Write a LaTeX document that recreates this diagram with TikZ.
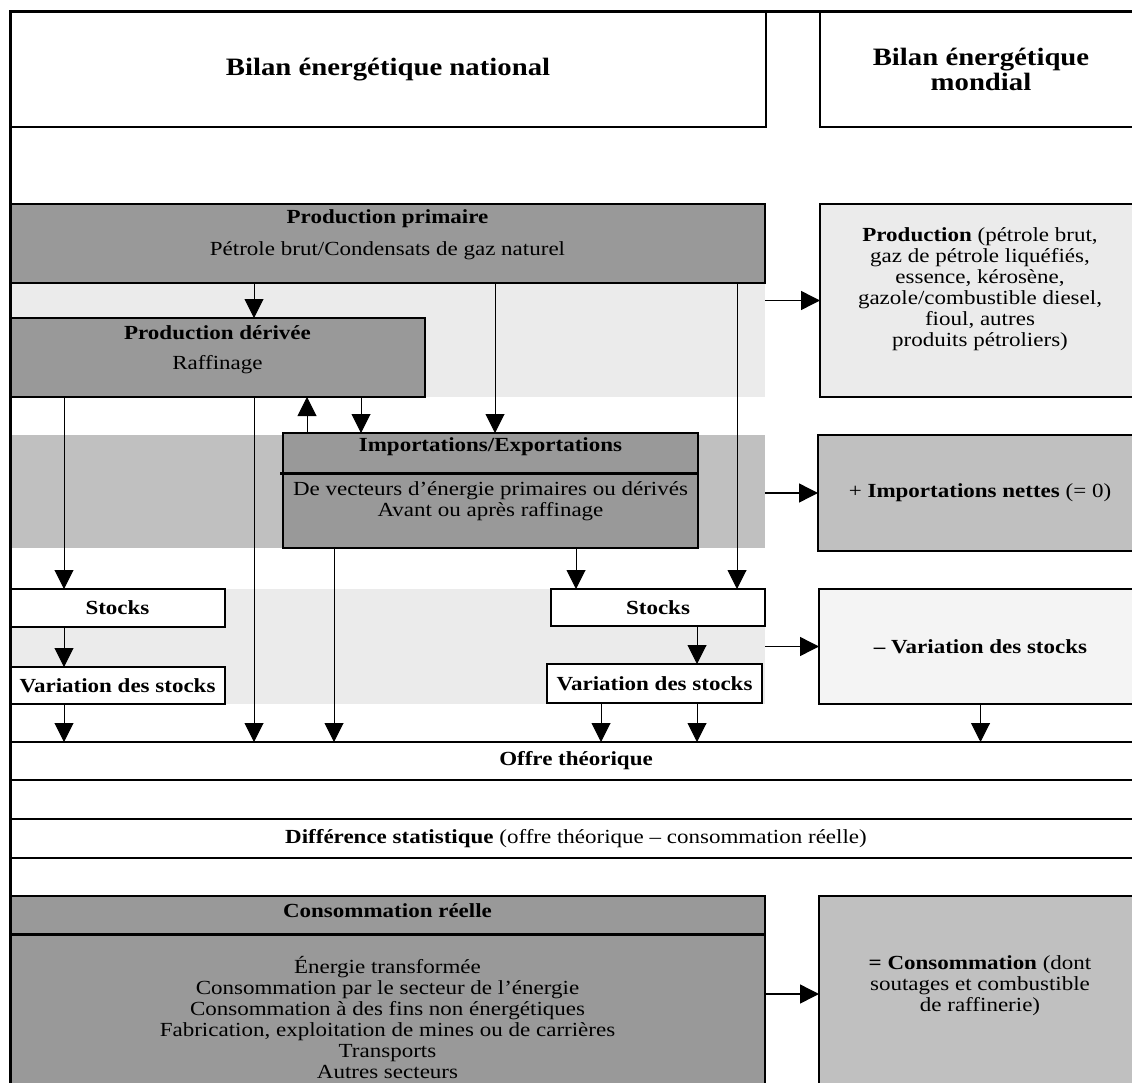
\documentclass[tikz,border=0pt]{standalone}
\usepackage{xcolor}
\usepackage{fontspec}
\setmainfont{Liberation Serif}[FakeStretch=1.15]
\usepackage{tikz}
\definecolor{boxgray}{RGB}{153, 153, 153}
\definecolor{bandgray}{RGB}{192, 192, 192}
\definecolor{bandlight}{RGB}{235, 235, 235}
\definecolor{boxpale}{RGB}{244, 244, 244}
\usetikzlibrary{arrows.meta}
\newcommand{\diagfont}{\fontsize{20}{21}\selectfont}
\newcommand{\headfont}{\fontsize{25}{25}\selectfont\bfseries}

\begin{document}
\begin{tikzpicture}[
    x=1pt, y=-1pt,
    every node/.style={inner sep=0pt, outer sep=0pt, align=center, font=\diagfont},
    heading/.style={font=\diagfont\bfseries},
    band/.style={rectangle, fill=#1, minimum width=755pt},
    panel/.style={rectangle, draw, line width=1.4pt, fill=#1},
    panel/.default=white,
    flow/.style={-{Triangle[length=19pt, width=19pt]}, line width=1pt},
    feed/.style={-{Triangle[length=19pt, width=19pt]}, line width=1.4pt},
    divider/.style={line width=3pt}
]
    \useasboundingbox (0,0) rectangle (1132,1083);
    \clip (0,0) rectangle (1132,1083);

    \node[band=bandlight, minimum height=114pt] (band1) at (387.5, 340) {};
    \node[band=bandgray, minimum height=113pt] (band2) at (387.5, 491.5) {};
    \node[band=bandlight, minimum height=115pt] (band3) at (387.5, 646.5) {};

    \node[panel, minimum width=756pt, minimum height=115pt, font=\headfont] (natH) at (388, 69.5) {Bilan énergétique national};
    \node[panel, minimum width=322pt, minimum height=115pt, font=\headfont] (monH) at (981, 69.5) {Bilan énergétique\\ mondial};

    \node[panel=boxgray, minimum width=755pt, minimum height=79pt] (prim) at (387.5, 243.5) {};
    \node[heading] (primT) at (387.5, 219) {Production primaire};
    \node (primS) at (387.5, 251) {Pétrole brut/Condensats de gaz naturel};

    \node[panel=boxgray, minimum width=415pt, minimum height=79pt] (deriv) at (217.5, 357.5) {};
    \node[heading] (derivT) at (217.5, 333) {Production dérivée};
    \node (derivS) at (217.5, 365) {Raffinage};

    \node[panel=boxgray, minimum width=415pt, minimum height=115pt] (trade) at (490.5, 490.5) {};
    \node[heading] (tradeT) at (490.5, 447) {Importations/Exportations};
    \node (tradeS) at (490.5, 501.5) {De vecteurs d’énergie primaires ou dérivés\\ Avant ou après raffinage};
    \draw[divider] (280, 473) -- (698, 473);

    \node[panel, heading, minimum width=215pt, minimum height=38pt] (stockL) at (117.5, 608) {Stocks};
    \node[panel, heading, minimum width=215pt, minimum height=37pt] (varL) at (117.5, 685.5) {Variation des stocks};
    \node[panel, heading, minimum width=214pt, minimum height=37pt] (stockR) at (658, 607.5) {Stocks};
    \node[panel, heading, minimum width=215pt, minimum height=39pt] (varR) at (654.5, 683.5) {Variation des stocks};

    \node[panel, heading, minimum width=1132pt, minimum height=38pt] (offre) at (576, 761) {Offre théorique};
    \node[panel, minimum width=1132pt, minimum height=39pt] (diff) at (576, 838.5) {\textbf{Différence statistique} (offre théorique – consommation réelle)};

    \node[panel=boxgray, minimum width=755pt, minimum height=196pt] (cons) at (387.5, 994) {};
    \node[heading] (consT) at (387.5, 911) {Consommation réelle};
    \node (consS) at (387.5, 1017.5) {Énergie transformée\\ Consommation par le secteur de l’énergie\\ Consommation à des fins non énergétiques\\ Fabrication, exploitation de mines ou de carrières\\ Transports\\ Autres secteurs};
    \draw[divider] (10, 934) -- (765, 934);

    \node[panel=bandlight, minimum width=322pt, minimum height=193pt] (prodW) at (981, 300.5) {};
    \node (prodWT) at (980, 289) {\textbf{Production} (pétrole brut,\\ gaz de pétrole liquéfiés,\\ essence, kérosène,\\ gazole/combustible diesel,\\ fioul, autres\\ produits pétroliers)};
    \node[panel=bandgray, minimum width=324pt, minimum height=116pt] (tradeW) at (980, 493) {+ \textbf{Importations nettes} (= 0)};
    \node[panel=boxpale, minimum width=323pt, minimum height=115pt] (varW) at (980.5, 646.5) {\textbf{– Variation des stocks}};
    \node[panel=bandgray, minimum width=323pt, minimum height=196pt] (consW) at (980.5, 994) {};
    \node (consWT) at (980, 985.5) {\textbf{= Consommation} (dont\\ soutages et combustible\\ de raffinerie)};

    \foreach \n/\x in {a/64, b/254, c/307, d/334, e/361, f/495, g/576, h/601, i/697, j/737}
        \coordinate (col\n) at (\x, 0);

    \draw[flow] (prim.south -| colb) -- (deriv.north -| colb);
    \draw[flow] (prim.south -| colf) -- (trade.north -| colf);
    \draw[flow] (prim.south -| colj) -- (stockR.north -| colj);
    \draw[flow] (deriv.south -| cola) -- (stockL.north -| cola);
    \draw[flow] (deriv.south -| colb) -- (offre.north -| colb);
    \draw[flow] (deriv.south -| cole) -- (trade.north -| cole);
    \draw[flow] (trade.north -| colc) -- (deriv.south -| colc);
    \draw[flow] (trade.south -| cold) -- (offre.north -| cold);
    \draw[flow] (trade.south -| colg) -- (stockR.north -| colg);
    \draw[flow] (stockL.south -| cola) -- (varL.north -| cola);
    \draw[flow] (stockR.south -| coli) -- (varR.north -| coli);
    \draw[flow] (varL.south -| cola) -- (offre.north -| cola);
    \draw[flow] (varR.south -| colh) -- (offre.north -| colh);
    \draw[flow] (varR.south -| coli) -- (offre.north -| coli);
    \draw[flow] (varW.south) -- (offre.north -| varW.south);

    \draw[feed] (band1.east |- prodW.west) -- (prodW.west);
    \draw[feed] (band2.east |- tradeW.west) -- (tradeW.west);
    \draw[feed] (band3.east |- varW.west) -- (varW.west);
    \draw[feed] (cons.east |- consW.west) -- (consW.west);

    \draw[divider] (10, 1090) -- (10, 12) -- (1140, 12);
\end{tikzpicture}
\end{document}
